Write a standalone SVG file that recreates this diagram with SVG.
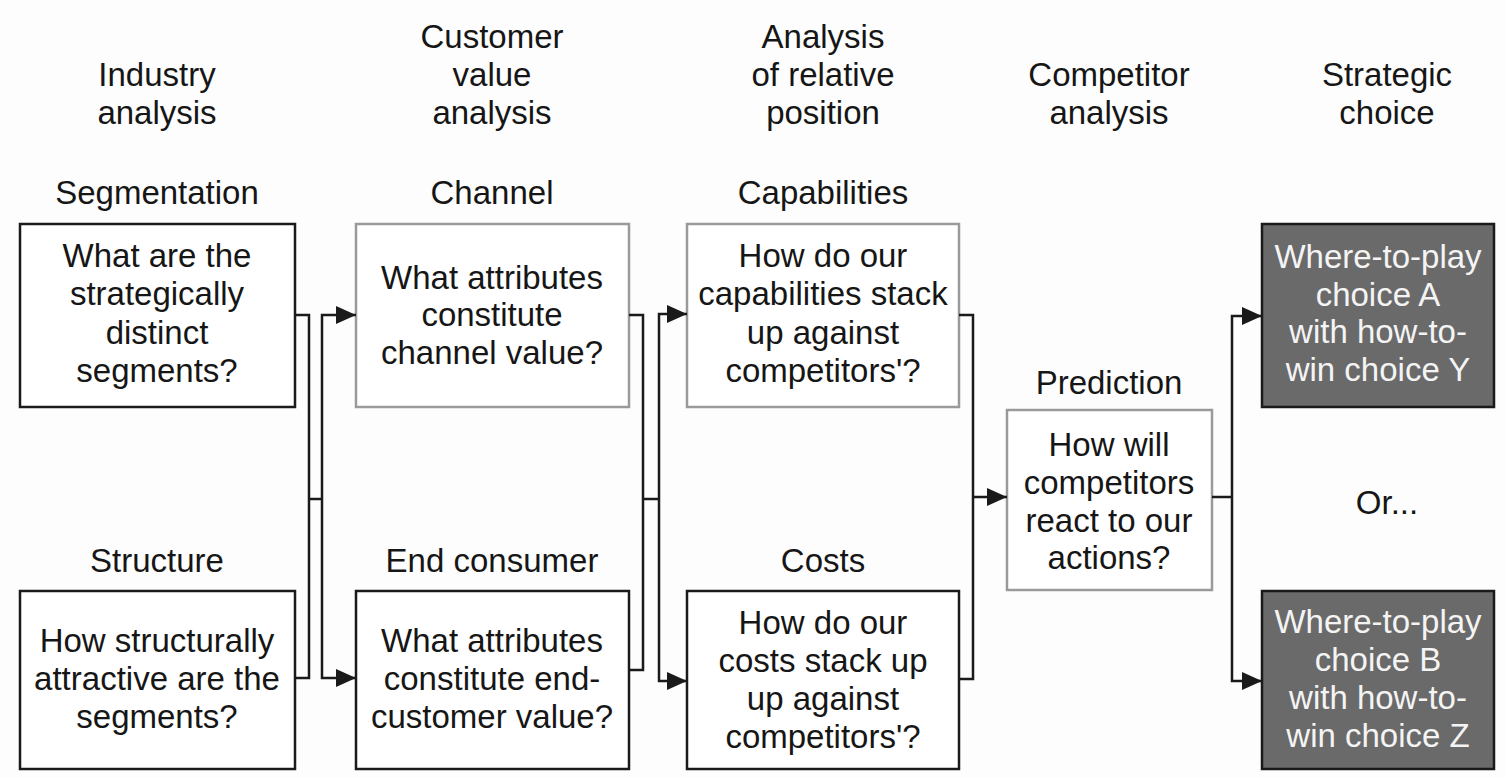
<svg xmlns="http://www.w3.org/2000/svg" width="1506" height="778" viewBox="0 0 1506 778">
<style>
  text { font-family: "Liberation Sans", Arial, sans-serif; font-size: 33px; fill: #161616; text-anchor: middle; }
  .box { fill: #ffffff; stroke: #1a1a1a; stroke-width: 2.5; }
  .gbox { fill: #ffffff; stroke: #9a9a9a; stroke-width: 2.5; }
  .dbox { fill: #6a6a6a; stroke: #1a1a1a; stroke-width: 2.5; }
  .wt { fill: #f4f4f4; }
  .conn { fill: none; stroke: #1a1a1a; stroke-width: 2.5; }
</style>
<defs>
  <marker id="arr" viewBox="0 0 20 18" refX="20" refY="9" markerWidth="20" markerHeight="18" markerUnits="userSpaceOnUse" orient="auto">
    <path d="M0,0 L20,9 L0,18 z" fill="#1a1a1a"/>
  </marker>
</defs>
<rect width="1506" height="778" fill="#fdfdfd"/>

<g id="headers">
  <text><tspan x="157" y="86">Industry</tspan><tspan x="157" y="124">analysis</tspan></text>
  <text><tspan x="492" y="48">Customer</tspan><tspan x="492" y="86">value</tspan><tspan x="492" y="124">analysis</tspan></text>
  <text><tspan x="823" y="48">Analysis</tspan><tspan x="823" y="86">of relative</tspan><tspan x="823" y="124">position</tspan></text>
  <text><tspan x="1109" y="86">Competitor</tspan><tspan x="1109" y="124">analysis</tspan></text>
  <text><tspan x="1387" y="86">Strategic</tspan><tspan x="1387" y="124">choice</tspan></text>
</g>

<g id="segmentation">
  <text x="157" y="204">Segmentation</text>
  <rect class="box" x="20" y="224" width="275" height="183"/>
  <text><tspan x="157" y="267">What are the</tspan><tspan x="157" y="305">strategically</tspan><tspan x="157" y="344">distinct</tspan><tspan x="157" y="382">segments?</tspan></text>
</g>

<g id="structure">
  <text x="157" y="572">Structure</text>
  <rect class="box" x="20" y="591" width="275" height="178"/>
  <text><tspan x="157" y="652">How structurally</tspan><tspan x="157" y="690">attractive are the</tspan><tspan x="157" y="728">segments?</tspan></text>
</g>

<g id="channel">
  <text x="492" y="204">Channel</text>
  <rect class="gbox" x="356" y="224" width="273" height="183"/>
  <text><tspan x="492" y="289">What attributes</tspan><tspan x="492" y="326">constitute</tspan><tspan x="492" y="364">channel value?</tspan></text>
</g>

<g id="endconsumer">
  <text x="492" y="572">End consumer</text>
  <rect class="box" x="356" y="591" width="273" height="178"/>
  <text><tspan x="492" y="652">What attributes</tspan><tspan x="492" y="690">constitute end-</tspan><tspan x="492" y="728">customer value?</tspan></text>
</g>

<g id="capabilities">
  <text x="823" y="204">Capabilities</text>
  <rect class="gbox" x="687" y="224" width="272" height="183"/>
  <text><tspan x="823" y="267">How do our</tspan><tspan x="823" y="305">capabilities stack</tspan><tspan x="823" y="344">up against</tspan><tspan x="823" y="382">competitors'?</tspan></text>
</g>

<g id="costs">
  <text x="823" y="572">Costs</text>
  <rect class="box" x="687" y="591" width="272" height="178"/>
  <text><tspan x="823" y="634">How do our</tspan><tspan x="823" y="672">costs stack up</tspan><tspan x="823" y="710">up against</tspan><tspan x="823" y="748">competitors'?</tspan></text>
</g>

<g id="prediction">
  <text x="1109" y="394">Prediction</text>
  <rect class="gbox" x="1007" y="410" width="205" height="180"/>
  <text><tspan x="1109" y="456">How will</tspan><tspan x="1109" y="494">competitors</tspan><tspan x="1109" y="532">react to our</tspan><tspan x="1109" y="569">actions?</tspan></text>
</g>

<g id="choiceA">
  <rect class="dbox" x="1262" y="224" width="232" height="183"/>
  <text class="wt"><tspan class="wt" x="1378" y="268">Where-to-play</tspan><tspan class="wt" x="1378" y="306">choice A</tspan><tspan class="wt" x="1378" y="343">with how-to-</tspan><tspan class="wt" x="1378" y="381">win choice Y</tspan></text>
</g>

<g id="or">
  <text x="1387" y="514">Or...</text>
</g>

<g id="choiceB">
  <rect class="dbox" x="1262" y="591" width="232" height="178"/>
  <text class="wt"><tspan class="wt" x="1378" y="633">Where-to-play</tspan><tspan class="wt" x="1378" y="671">choice B</tspan><tspan class="wt" x="1378" y="709">with how-to-</tspan><tspan class="wt" x="1378" y="747">win choice Z</tspan></text>
</g>

<g id="connectors">
  <path class="conn" d="M295,315 H309 V678 H295"/>
  <path class="conn" d="M309,499 H322"/>
  <path class="conn" d="M322,499 V315 H356" marker-end="url(#arr)"/>
  <path class="conn" d="M322,499 V678 H356" marker-end="url(#arr)"/>

  <path class="conn" d="M629,315 H643 V670 H629"/>
  <path class="conn" d="M643,499 H659"/>
  <path class="conn" d="M659,499 V314 H687" marker-end="url(#arr)"/>
  <path class="conn" d="M659,499 V681 H687" marker-end="url(#arr)"/>

  <path class="conn" d="M959,315 H973 V679 H959"/>
  <path class="conn" d="M973,497 H1007" marker-end="url(#arr)"/>

  <path class="conn" d="M1212,497 H1232"/>
  <path class="conn" d="M1232,497 V316 H1262" marker-end="url(#arr)"/>
  <path class="conn" d="M1232,497 V681 H1262" marker-end="url(#arr)"/>
</g>
</svg>
